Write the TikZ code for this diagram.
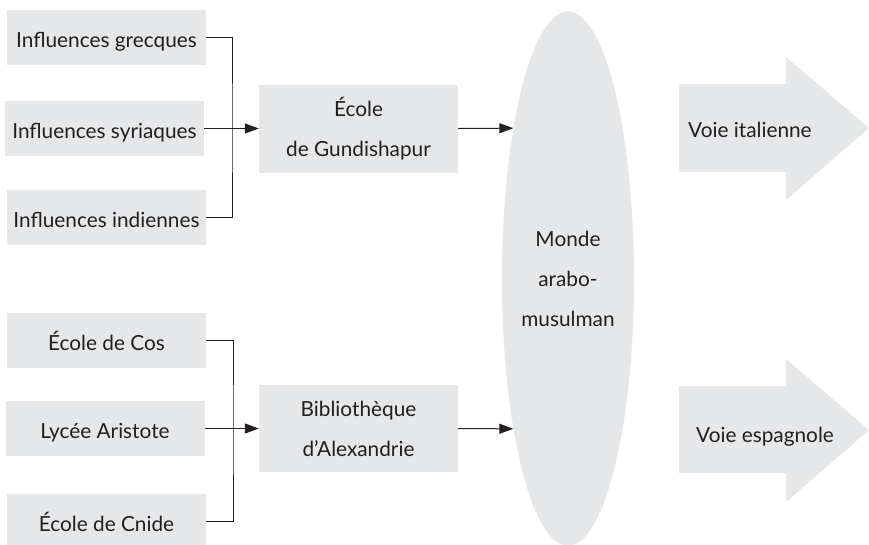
\documentclass[tikz,border=0pt]{standalone}
\usepackage{fontspec}
\setmainfont{Lato}
\usetikzlibrary{arrows.meta,shapes.geometric}
\definecolor{boxgray}{HTML}{E6E7E8}
\definecolor{ink}{HTML}{231F20}
\tikzset{
    source/.style={fill=boxgray, minimum width=199pt, minimum height=55pt, inner sep=0pt, text height=20pt, text depth=0pt},
    school/.style={fill=boxgray, minimum width=199pt, minimum height=88pt, inner sep=0pt, align=center},
    link/.style={draw=ink, line width=1pt},
    arr/.style={link, -{Triangle[length=14pt,width=10pt]}},
}
\begin{document}
\begin{tikzpicture}[x=1pt, y=-1pt, font=\fontsize{20.8pt}{40pt}\selectfont, text=ink]
                    \useasboundingbox (0,0) rectangle (869,544);
                    % sources
                    \node[source] (grec) at (106.5,37.5) {Influences grecques};
                    \node[source] (syr) at (104.5,128.5) {Influences syriaques};
                    \node[source] (ind) at (106.5,217.5) {Influences indiennes};
                    \node[source] (cos) at (106.5,340.5) {École de Cos};
                    \node[source] (lyc) at (105,428.5) {Lycée Aristote};
                    \node[source] (cni) at (106.5,521) {École de Cnide};
                    % schools
                    \node[school] (gund) at (358.5,128.5) {École\\de Gundishapur};
                    \node[school, minimum height=87pt] (bib) at (358.5,428.5) {Bibliothèque\\d’Alexandrie};
                    \node[ellipse, fill=boxgray, minimum width=132pt, minimum height=534pt, inner sep=0pt, align=center] (monde) at (568,278.5) {Monde\\arabo-\\musulman};
                    % ways out
                    \fill[boxgray] (679,84) -- (786,84) -- (786,57) -- (869,128) -- (786,200) -- (786,172) -- (679,172) -- cycle;
                    \node[anchor=base west, inner sep=0pt] (ital) at (688,137) {Voie italienne};
                    \fill[boxgray] (679,386) -- (786,386) -- (786,359) -- (869,430) -- (786,502) -- (786,473) -- (679,473) -- cycle;
                    \node[anchor=base west, inner sep=0pt] (esp) at (696,442) {Voie espagnole};
                    % connectors
                    \coordinate (j1) at (232,128.5);
                    \coordinate (j2) at (233,428.5);
                    \draw[link] (grec.east) -| (j1) |- (ind.east);
                    \draw[arr] (syr.east) -- (gund.west);
                    \draw[arr] (gund.east) -- (monde.110);
                    \draw[link] (cos.east) -| (j2) |- (cni.east);
                    \draw[arr] (lyc.east) -- (bib.west);
                    \draw[arr] (bib.east) -- (monde.250);
                \end{tikzpicture}
\end{document}
